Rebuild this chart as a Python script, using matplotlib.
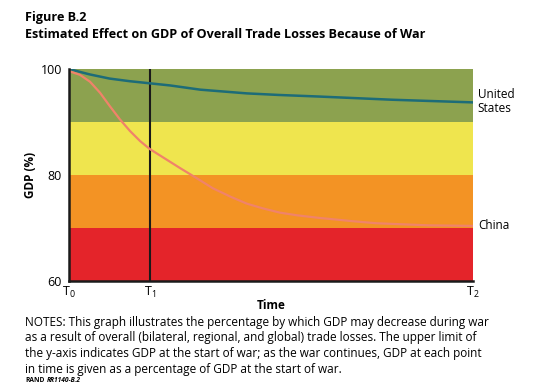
import matplotlib.pyplot as plt

# data (time runs T0=0 .. T2=10, T1 at 2)
us_t = [0, 0.5, 1.0, 1.5, 2.0, 2.5, 3.25, 4.4, 5.2, 6.2, 8.0, 10]
us_gdp = [100, 99.0, 98.2, 97.7, 97.3, 96.9, 96.1, 95.4, 95.1, 94.8, 94.2, 93.7]
china_t = [0, 0.27, 0.52, 0.77, 1.01, 1.26, 1.51, 1.76, 2.0, 2.25, 2.5, 2.75, 3.16,
           3.56, 4.0, 4.4, 4.8, 5.22, 5.64, 6.2, 7.0, 7.6, 8.9, 10]
china_gdp = [99.6, 98.9, 97.6, 95.5, 93.0, 90.5, 88.3, 86.4, 84.9, 83.7, 82.5, 81.3, 79.4,
             77.5, 75.9, 74.6, 73.7, 72.9, 72.4, 71.9, 71.3, 70.9, 70.5, 70.4]
bands = [(90, 100, "#8ca24f"), (80, 90, "#efe54e"), (70, 80, "#f39324"), (60, 70, "#e4242a")]
xticks = [0, 2, 10]
xlabels = ["T$_0$", "T$_1$", "T$_2$"]
yticks = [60, 80, 100]

plt.rcParams['font.family'] = ['Open Sans', 'DejaVu Sans']
plt.rcParams['mathtext.fontset'] = 'custom'
plt.rcParams['mathtext.rm'] = 'Open Sans'

fig = plt.figure(figsize=(5.48, 3.86), dpi=100)
ax = fig.add_axes([69/548, 1-281/386, 404/548, 212/386])

for lo, hi, c in bands:
    ax.axhspan(lo, hi, color=c, lw=0)
ax.axvline(2, color="#1a1a1a", lw=1.5)
ax.plot(us_t, us_gdp, color="#1d6c78", lw=1.8)
ax.plot(china_t, china_gdp, color="#f0836a", lw=1.6)

ax.set_xlim(0, 10)
ax.set_ylim(60, 100)
ax.set_xticks(xticks)
ax.set_xticklabels(xlabels, fontsize=9)
ax.set_yticks(yticks)
ax.set_yticklabels([str(v) for v in yticks], fontsize=9)
ax.tick_params(axis="y", length=0, pad=5)
ax.tick_params(axis="x", length=0, pad=3)
for s in ["top", "right"]:
    ax.spines[s].set_visible(False)
for s in ["left", "bottom"]:
    ax.spines[s].set_linewidth(1.8)
    ax.spines[s].set_color("#1a1a1a")
ax.set_xlabel("Time", fontsize=8.5, fontweight="bold", labelpad=-1)
ax.set_ylabel("GDP (%)", fontsize=8.5, fontweight="bold", labelpad=3)

ax.text(1.012, us_gdp[-1] + 0.2, "United\nStates", transform=ax.get_yaxis_transform(),
        fontsize=8.5, va="center", ha="left", linespacing=1.1)
ax.text(1.012, china_gdp[-1], "China", transform=ax.get_yaxis_transform(),
        fontsize=8.5, va="center", ha="left")

fig.text(25/548, 1-17/386, "Figure B.2", fontsize=9.1, fontweight="bold", va="center")
fig.text(25/548, 1-34/386, "Estimated Effect on GDP of Overall Trade Losses Because of War",
         fontsize=9.1, fontweight="bold", va="center")

notes = ("NOTES: This graph illustrates the percentage by which GDP may decrease during war\n"
         "as a result of overall (bilateral, regional, and global) trade losses. The upper limit of\n"
         "the y-axis indicates GDP at the start of war; as the war continues, GDP at each point\n"
         "in time is given as a percentage of GDP at the start of war.")
fig.text(25/548, 1-316/386, notes, fontsize=8.45, va="top", linespacing=1.25)
fig.text(25/548, 1-381/386, "RAND", fontsize=4.8, fontweight="bold", va="center")
fig.text(47/548, 1-381/386, "RR1140-B.2", fontsize=4.8, fontweight="bold", style="italic",
         va="center")

fig.savefig("out.png", dpi=100)
